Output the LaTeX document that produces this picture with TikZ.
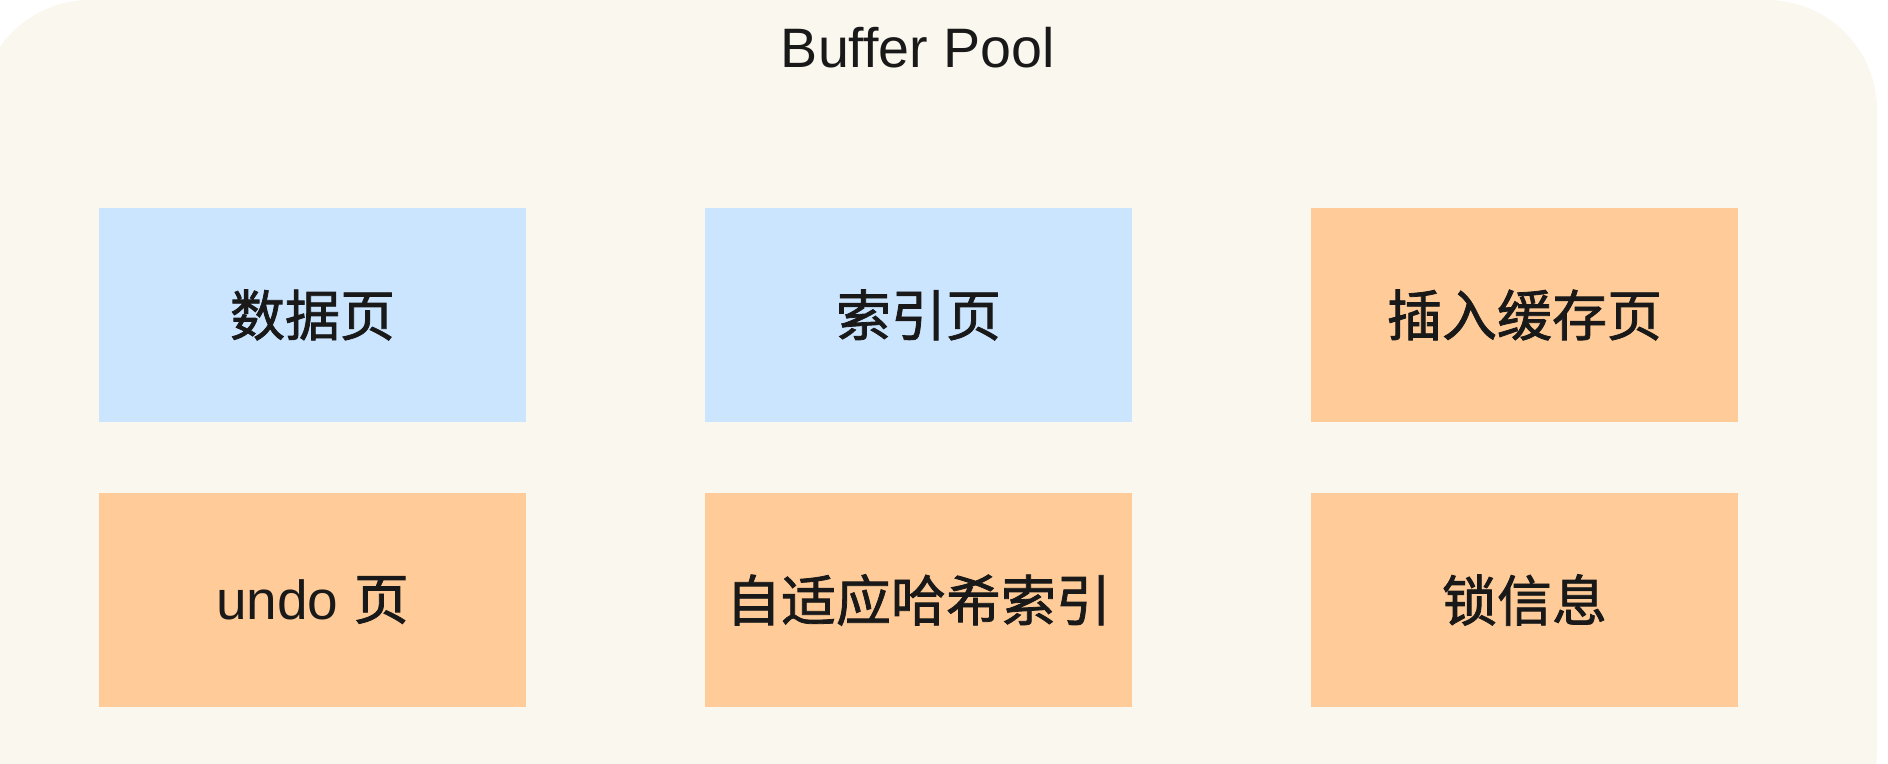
\documentclass[tikz,border=0pt]{standalone}
\usepackage{fontspec}
\setmainfont{Liberation Sans}
\newfontfamily\cjk[FakeBold=1.4]{Noto Sans CJK SC}
\usepackage{xcolor}
\usetikzlibrary{matrix}

\definecolor{poolcream}{HTML}{FAF7EE}
\definecolor{pageblue}{HTML}{CCE5FF}
\definecolor{pageorange}{HTML}{FFCC99}

\begin{document}
\begin{tikzpicture}[x=0.5pt, y=-0.5pt,
    every node/.style={rectangle, text centered, inner sep=0pt, outer sep=0pt, text=black!90},
    page/.style={minimum width=213.5pt, minimum height=107pt, font=\fontsize{27.5}{33}\selectfont},
    datapage/.style={page, fill=pageblue},
    extrapage/.style={page, fill=pageorange}]
\useasboundingbox (0,0) rectangle (1888,764);
% the pool itself
\fill [poolcream, rounded corners=55pt] (-20,0) rectangle (1877,860);
\node [anchor=base, font=\fontsize{27.8}{33}\selectfont] (title) at (918,68) {Buffer Pool};
\matrix (pool) [ampersand replacement=\&, column sep=89.5pt, row sep=35.5pt] at (918.5,457.5)
{
\node [datapage] (data) {\cjk 数据页}; \&
\node [datapage] (index) {\cjk 索引页}; \&
\node [extrapage] (insert) {\cjk 插入缓存页}; \\
\node [extrapage] (undo) {undo {\cjk 页}}; \&
\node [extrapage] (hash) {\cjk 自适应哈希索引}; \&
\node [extrapage] (lock) {\cjk 锁信息}; \\
};
\end{tikzpicture}
\end{document}
